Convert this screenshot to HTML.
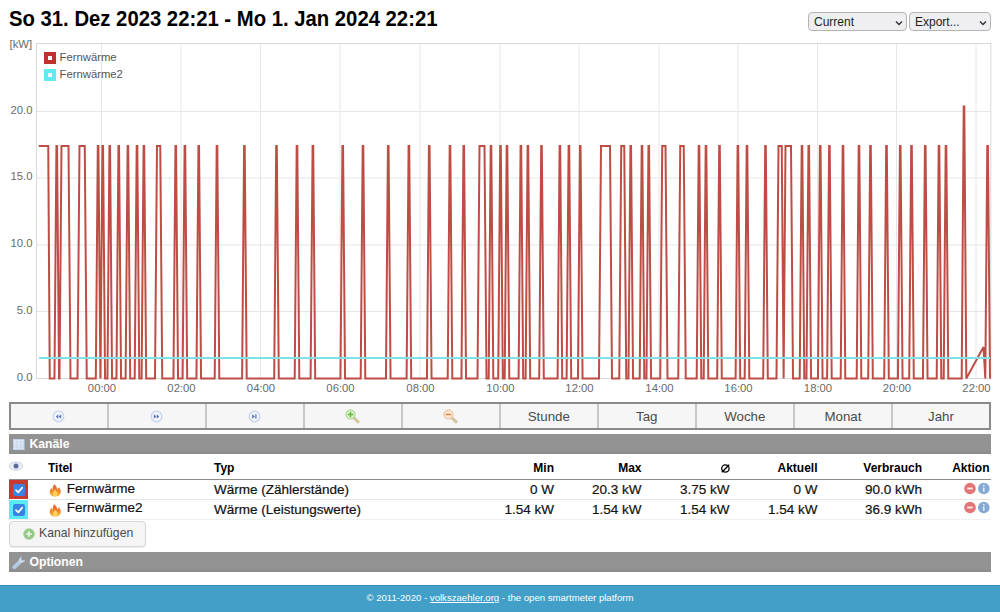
<!DOCTYPE html>
<html><head><meta charset="utf-8">
<style>
*{box-sizing:border-box}
html,body{margin:0;padding:0;background:#fff;width:1000px;height:612px;overflow:hidden;font-family:"Liberation Sans",sans-serif;color:#111}
.abs{position:absolute}
#title{left:9px;top:6px;font-weight:bold;font-size:22px;color:#000;white-space:nowrap;line-height:26px;transform:scaleX(0.922);transform-origin:0 0}
.sel{position:absolute;top:12px;height:19px;border:1px solid #b4b4b4;border-radius:4px;background:#efeff1;font-size:12px;color:#1e1e1e;line-height:19px;padding-left:5px}
.sel svg{position:absolute;right:3px;top:7px}
#chart{position:absolute;left:0;top:0}
.ylab{position:absolute;font-size:11.3px;color:#6a6a6a;text-align:right;width:30px;left:2.5px}
.xlab{position:absolute;font-size:11.3px;color:#6a6a6a;width:40px;text-align:center;top:381.5px}
#legend{position:absolute;left:43px;top:51px;font-size:11.3px;color:#545454}
#btnbar{position:absolute;left:8.5px;top:401.5px;width:982.5px;height:28.7px;border:2px solid #8a8a8a;background:#f6f6f6;display:flex}
#btnbar>div{flex:1;border-left:2px solid #c8c8c8;text-align:center;font-size:13.3px;color:#4a4a4a;line-height:25px;position:relative}
#btnbar>div:first-child{border-left:none}
#btnbar svg{position:absolute;left:50%;top:50%}
.hdr{position:absolute;left:8.5px;width:982.5px;height:20px;background:linear-gradient(#939393 0,#939393 80%,#8a8a8a 100%);color:#fff;font-weight:bold;font-size:12.2px;line-height:20px;padding-left:21px}
.hdr svg{position:absolute;left:4px;top:4px}
.th{position:absolute;top:461px;font-weight:bold;font-size:12px;color:#000;white-space:nowrap}
.td{position:absolute;font-size:13.5px;color:#111;white-space:nowrap;-webkit-text-stroke:0.2px #111}
.r{text-align:right}
</style></head><body>
<div id="title" class="abs">So 31. Dez 2023 22:21 - Mo 1. Jan 2024 22:21</div>
<div class="sel" style="left:808px;width:99px">Current<svg width="8" height="6" viewBox="0 0 8 6"><path d="M1 1.5L4 4.5L7 1.5" stroke="#333" stroke-width="1.4" fill="none"/></svg></div>
<div class="sel" style="left:909px;width:82px">Export...<svg width="8" height="6" viewBox="0 0 8 6"><path d="M1 1.5L4 4.5L7 1.5" stroke="#333" stroke-width="1.4" fill="none"/></svg></div>

<svg id="chart" width="1000" height="400" viewBox="0 0 1000 400">
 <g stroke="#e6e6e6" stroke-width="1" fill="none">
  <path d="M101.5 44V378M181 44V378M260.5 44V378M340 44V378M420 44V378M500 44V378M579 44V378M659 44V378M738 44V378M817.5 44V378M896.5 44V378M976 44V378"/>
  <path d="M37 111.5H990M37 178H990M37 245H990M37 311.5H990"/>
 </g>
 <rect x="36.5" y="43.5" width="954.3" height="335" fill="none" stroke="#d8d8d8" stroke-width="1"/>
 <polyline points="38.75,145.95 48.25,145.95 49.75,378.5 54.45,378.5 56.45,145.95 57.05,145.95 59.05,378.5 59.5,378.5 61.5,145.95 68.5,145.95 70.5,378.5 77.5,378.5 79.5,145.95 84.75,145.95 86.75,378.5 95.8,378.5 97.8,145.95 98.39999999999999,145.95 100.42,378.5 102.45,145.95 103.05,145.95 105.05,378.5 107.45,378.5 109.45,145.95 110.05,145.95 112.05,378.5 116.45,378.5 118.45,145.95 119.05,145.95 121.05,378.5 125.6,378.5 127.60000000000001,145.95 128.20000000000002,145.95 130.2,378.5 134.7,378.5 136.7,145.95 137.3,145.95 139.3,378.5 141.6,378.5 143.6,145.95 144.20000000000002,145.95 146.2,378.5 155.0,378.5 157,145.95 160.25,145.95 162.25,378.5 173.45,378.5 175.45,145.95 176.05,145.95 178.05,378.5 182.6,378.5 184.6,145.95 185.20000000000002,145.95 187.2,378.5 196.45,378.5 198.45,145.95 199.05,145.95 201.05,378.5 214.7,378.5 216.7,145.95 217.3,145.95 219.3,378.5 242.1,378.5 244.1,145.95 244.70000000000002,145.95 246.7,378.5 274.2,378.5 276.2,145.95 276.8,145.95 278.8,378.5 294.7,378.5 296.7,145.95 297.3,145.95 299.3,378.5 310.6,378.5 312.59999999999997,145.95 313.2,145.95 315.2,378.5 340.45,378.5 342.45,145.95 343.05,145.95 345.05,378.5 360.7,378.5 362.7,145.95 363.3,145.95 365.3,378.5 385.95,378.5 387.95,145.95 388.55,145.95 390.55,378.5 406.6,378.5 408.59999999999997,145.95 409.2,145.95 411.2,378.5 426.95,378.5 428.95,145.95 429.55,145.95 431.55,378.5 447.7,378.5 449.7,145.95 450.3,145.95 452.3,378.5 461.45,378.5 463.45,145.95 464.05,145.95 466.05,378.5 477.5,378.5 479.5,145.95 484.5,145.95 486.5,378.5 488.7,378.5 490.7,145.95 491.3,145.95 493.3,378.5 498.2,378.5 500.2,145.95 500.8,145.95 502.8,378.5 504.7,378.5 506.7,145.95 507.3,145.95 509.3,378.5 518.6,378.5 520.6,145.95 521.1999999999999,145.95 523.2,378.5 525.6,378.5 527.6,145.95 528.1999999999999,145.95 530.2,378.5 539.2,378.5 541.2,145.95 541.8,145.95 543.8,378.5 557.6,378.5 559.6,145.95 560.1999999999999,145.95 562.2,378.5 566.6,378.5 568.6,145.95 569.1999999999999,145.95 571.2,378.5 577.95,378.5 579.95,145.95 580.55,145.95 582.55,378.5 599.0,378.5 601,145.95 610,145.95 612.0,378.5 619.25,378.5 621.25,145.95 624.25,145.95 626.25,378.5 628.45,378.5 630.45,145.95 631.05,145.95 633.05,378.5 639.7,378.5 641.7,145.95 642.3,145.95 644.3,378.5 646.45,378.5 648.45,145.95 649.05,145.95 651.05,378.5 660.25,378.5 662.25,145.95 665.5,145.95 667.5,378.5 678.25,378.5 680.25,145.95 683.75,145.95 685.75,378.5 696.7,378.5 698.7,145.95 699.3,145.95 701.3,378.5 703.7,378.5 705.7,145.95 706.3,145.95 708.3,378.5 717.2,378.5 719.2,145.95 719.8,145.95 721.8,378.5 735.6,378.5 737.6,145.95 738.1999999999999,145.95 740.2,378.5 744.7,378.5 746.7,145.95 747.3,145.95 749.3,378.5 763.2,378.5 765.2,145.95 765.8,145.95 767.8,378.5 776.5,378.5 778.5,145.95 781.75,145.95 783.62,378.5 785.5,145.95 791,145.95 793.0,378.5 799.7,378.5 801.7,145.95 802.3,145.95 804.3,378.5 806.45,378.5 808.45,145.95 809.05,145.95 811.05,378.5 817.95,378.5 819.95,145.95 820.55,145.95 822.55,378.5 827.1,378.5 829.1,145.95 829.6999999999999,145.95 831.7,378.5 840.7,378.5 842.7,145.95 843.3,145.95 845.3,378.5 856.7,378.5 858.7,145.95 859.3,145.95 861.3,378.5 868.2,378.5 870.2,145.95 870.8,145.95 872.8,378.5 884.2,378.5 886.2,145.95 886.8,145.95 888.8,378.5 897.95,378.5 899.95,145.95 900.55,145.95 902.55,378.5 909.2,378.5 911.2,145.95 911.8,145.95 913.8,378.5 922.95,378.5 924.95,145.95 925.55,145.95 927.55,378.5 936.7,378.5 938.7,145.95 939.3,145.95 941.3,378.5 943.7,378.5 945.7,145.95 946.3,145.95 948.3,378.5 961.7,378.5 963.7,106.52 964.3,106.52 966.3,378.5 983.5,346.96 985.3,378.5 987.3,145.95 987.9,145.95 990.0,378.5" fill="none" stroke="#bd4d45" stroke-width="2" stroke-linejoin="miter" stroke-miterlimit="3"/>
 <path d="M39 357.9H990" stroke="#80e0e5" stroke-width="2" fill="none"/>
</svg>
<div class="abs" style="left:9.5px;top:37.5px;font-size:11.3px;color:#6a6a6a">[kW]</div>
<div class="ylab" style="top:103.5px">20.0</div>
<div class="ylab" style="top:170px">15.0</div>
<div class="ylab" style="top:237px">10.0</div>
<div class="ylab" style="top:303.5px">5.0</div>
<div class="ylab" style="top:370.5px">0.0</div>
<div class="xlab" style="left:82.0px">00:00</div>
<div class="xlab" style="left:161.5px">02:00</div>
<div class="xlab" style="left:241.0px">04:00</div>
<div class="xlab" style="left:320.5px">06:00</div>
<div class="xlab" style="left:400.5px">08:00</div>
<div class="xlab" style="left:480.5px">10:00</div>
<div class="xlab" style="left:559.5px">12:00</div>
<div class="xlab" style="left:639.5px">14:00</div>
<div class="xlab" style="left:718.5px">16:00</div>
<div class="xlab" style="left:798.0px">18:00</div>
<div class="xlab" style="left:877.0px">20:00</div>
<div class="xlab" style="left:956.5px">22:00</div>
<div id="legend">
 <div style="position:relative;height:17px"><span style="position:absolute;left:0.5px;top:1px;width:12px;height:11.5px;border:4.75px solid #c0302e;background:#fff"></span><span style="position:absolute;left:16.5px;top:0">Fernwärme</span></div>
 <div style="position:relative;height:17px"><span style="position:absolute;left:0.5px;top:1px;width:12px;height:11.5px;border:4.75px solid #62eaf0;background:#fff"></span><span style="position:absolute;left:16.5px;top:0">Fernwärme2</span></div>
</div>

<div id="btnbar">
 <div><svg width="13" height="13" viewBox="0 0 13 13" style="margin:-5.5px 0 0 -6.5px"><circle cx="6.5" cy="6.5" r="5.3" fill="#f3f6fd" stroke="#c6d3ee" stroke-width="1.2"/><path d="M6.3 4.2L3.8 6.5L6.3 8.8ZM9.2 4.2L6.7 6.5L9.2 8.8Z" fill="#5a72b5"/></svg></div>
 <div><svg width="13" height="13" viewBox="0 0 13 13" style="margin:-5.5px 0 0 -6.5px"><circle cx="6.5" cy="6.5" r="5.3" fill="#f3f6fd" stroke="#c6d3ee" stroke-width="1.2"/><path d="M3.8 4.2L6.3 6.5L3.8 8.8ZM6.7 4.2L9.2 6.5L6.7 8.8Z" fill="#5a72b5"/></svg></div>
 <div><svg width="13" height="13" viewBox="0 0 13 13" style="margin:-5.5px 0 0 -6.5px"><circle cx="6.5" cy="6.5" r="5.3" fill="#f3f6fd" stroke="#c6d3ee" stroke-width="1.2"/><path d="M4.2 4.2L6.9 6.5L4.2 8.8Z" fill="#5a72b5"/><path d="M7.9 4.2V8.8" stroke="#5a72b5" stroke-width="1.2"/></svg></div>
 <div><svg width="16" height="16" viewBox="0 0 16 16" style="margin:-7.5px 0 0 -8.5px"><path d="M9.5 9.5L14 13.8" stroke="#d4c49c" stroke-width="3" stroke-linecap="round"/><circle cx="6.5" cy="6.5" r="4.6" fill="#d4f2c0" stroke="#a0d488" stroke-width="1"/><path d="M6.5 3.8V9.2M3.8 6.5H9.2" stroke="#6cb84a" stroke-width="1.4"/></svg></div>
 <div><svg width="16" height="16" viewBox="0 0 16 16" style="margin:-7.5px 0 0 -8.5px"><path d="M9.5 9.5L14 13.8" stroke="#d4c49c" stroke-width="3" stroke-linecap="round"/><circle cx="6.5" cy="6.5" r="4.6" fill="#fce6cf" stroke="#e8bc94" stroke-width="1"/><path d="M3.8 6.5H9.2" stroke="#e0804a" stroke-width="1.4"/></svg></div>
 <div>Stunde</div><div>Tag</div><div>Woche</div><div>Monat</div><div>Jahr</div>
</div>

<div class="hdr" style="top:434px"><svg width="11.5" height="11" viewBox="0 0 12 12" preserveAspectRatio="none" style="left:4.5px;top:4.5px"><rect x="0.5" y="0.5" width="11" height="11" fill="#dfe9f7" stroke="#c4d4ec"/><path d="M0.5 3.5H11.5M0.5 6.5H11.5M0.5 9H11.5M4 0.5V11.5M8 0.5V11.5" stroke="#c0d2ea" stroke-width="0.7"/></svg>Kanäle</div>

<!-- table header -->
<svg class="abs" style="left:9px;top:461px" width="14" height="10" viewBox="0 0 14 10"><ellipse cx="7" cy="5" rx="6.5" ry="4" fill="#eef0f8" stroke="#b6bcd4" stroke-width="0.8"/><circle cx="7" cy="5" r="2.5" fill="#5a6aa0"/></svg>
<div class="th" style="left:48px">Titel</div>
<div class="th" style="left:214px">Typ</div>
<div class="th r" style="right:446px">Min</div>
<div class="th r" style="right:358.5px">Max</div>
<svg class="abs" style="left:720px;top:463px" width="11" height="11" viewBox="0 0 11 11"><circle cx="5.4" cy="5.5" r="3.7" fill="none" stroke="#000" stroke-width="1.3"/><path d="M1.9 9.3L9.2 1.7" stroke="#000" stroke-width="1.3"/></svg>
<div class="th r" style="right:182.5px">Aktuell</div>
<div class="th r" style="right:78px">Verbrauch</div>
<div class="th r" style="right:10.5px">Aktion</div>
<div class="abs" style="left:8.5px;top:479px;width:982.5px;height:1.4px;background:#8c8c8c"></div>
<div class="abs" style="left:28px;top:499.3px;width:963px;height:1px;background:#e4e4e4"></div>
<div class="abs" style="left:8.5px;top:519px;width:982.5px;height:1px;background:#f0f0f0"></div>

<!-- row 1 -->
<div class="abs" style="left:8.6px;top:480.3px;width:19.5px;height:18.5px;background:#c63a30"></div>
<div class="abs" style="left:8.6px;top:500.3px;width:19.5px;height:18.5px;background:#5ceaf2"></div>
<svg class="abs" style="left:13px;top:484px" width="12" height="12" viewBox="0 0 12 12"><rect width="12" height="12" rx="2.2" fill="#3b82e6"/><path d="M3 6.2L5.2 8.4L9.2 3.6" stroke="#fff" stroke-width="1.7" fill="none" stroke-linecap="round" stroke-linejoin="round"/></svg>
<svg class="abs" style="left:13px;top:503.6px" width="12" height="12" viewBox="0 0 12 12"><rect width="12" height="12" rx="2.2" fill="#3b82e6"/><path d="M3 6.2L5.2 8.4L9.2 3.6" stroke="#fff" stroke-width="1.7" fill="none" stroke-linecap="round" stroke-linejoin="round"/></svg>
<svg class="abs" style="left:48.8px;top:484.3px" width="12.5" height="13" viewBox="0 0 12 13"><defs><linearGradient id="fg1" x1="0" y1="0" x2="0" y2="1"><stop offset="0" stop-color="#e4572a"/><stop offset="0.55" stop-color="#f08a2c"/><stop offset="1" stop-color="#f7b733"/></linearGradient></defs><path d="M5.2 0.3C6.5 2 8 3.2 7.9 5.6C8.6 5 9.3 4.2 9.6 3.3C11 4.8 11.8 6.8 11.5 8.6C11.1 11 8.8 12.6 6 12.6C3 12.6 0.8 11 0.5 8.4C0.3 6.4 1.4 4.6 2.4 3.8C2.4 4.8 2.8 5.6 3.4 6C3.2 3.8 3.8 1.8 5.2 0.3Z" fill="url(#fg1)"/><path d="M5.8 5.8C6.8 7.2 8.6 8.2 8.3 10C8 11.6 7 12.2 5.9 12.2C4.5 12.2 3.4 11.3 3.5 9.9C3.6 8.3 5 7.4 5.8 5.8Z" fill="#fcd35a"/></svg>
<svg class="abs" style="left:48.8px;top:503.8px" width="12.5" height="13" viewBox="0 0 12 13"><defs><linearGradient id="fg2" x1="0" y1="0" x2="0" y2="1"><stop offset="0" stop-color="#e4572a"/><stop offset="0.55" stop-color="#f08a2c"/><stop offset="1" stop-color="#f7b733"/></linearGradient></defs><path d="M5.2 0.3C6.5 2 8 3.2 7.9 5.6C8.6 5 9.3 4.2 9.6 3.3C11 4.8 11.8 6.8 11.5 8.6C11.1 11 8.8 12.6 6 12.6C3 12.6 0.8 11 0.5 8.4C0.3 6.4 1.4 4.6 2.4 3.8C2.4 4.8 2.8 5.6 3.4 6C3.2 3.8 3.8 1.8 5.2 0.3Z" fill="url(#fg2)"/><path d="M5.8 5.8C6.8 7.2 8.6 8.2 8.3 10C8 11.6 7 12.2 5.9 12.2C4.5 12.2 3.4 11.3 3.5 9.9C3.6 8.3 5 7.4 5.8 5.8Z" fill="#fcd35a"/></svg>

<div class="td" style="left:66.8px;top:480.5px">Fernwärme</div>
<div class="td" style="left:214px;top:481.5px">Wärme (Zählerstände)</div>
<div class="td r" style="right:446px;top:481.5px">0 W</div>
<div class="td r" style="right:358.5px;top:481.5px">20.3 kW</div>
<div class="td r" style="right:270.5px;top:481.5px">3.75 kW</div>
<div class="td r" style="right:182.5px;top:481.5px">0 W</div>
<div class="td r" style="right:78px;top:481.5px">90.0 kWh</div>

<div class="td" style="left:66.8px;top:499.5px">Fernwärme2</div>
<div class="td" style="left:214px;top:501.5px">Wärme (Leistungswerte)</div>
<div class="td r" style="right:446px;top:501.5px">1.54 kW</div>
<div class="td r" style="right:358.5px;top:501.5px">1.54 kW</div>
<div class="td r" style="right:270.5px;top:501.5px">1.54 kW</div>
<div class="td r" style="right:182.5px;top:501.5px">1.54 kW</div>
<div class="td r" style="right:78px;top:501.5px">36.9 kWh</div>

<svg class="abs" style="left:963px;top:481.6px" width="28" height="13" viewBox="0 0 28 13"><circle cx="7" cy="6.5" r="5.8" fill="#e27676"/><path d="M4.2 6.5H9.8" stroke="#fbeaea" stroke-width="1.8"/><circle cx="20.8" cy="6.5" r="5.8" fill="#86a8d4"/><circle cx="20.8" cy="3.6" r="0.9" fill="#eef4fb"/><path d="M20.8 5.4V9.8" stroke="#eef4fb" stroke-width="1.4"/></svg>
<svg class="abs" style="left:963px;top:501.2px" width="28" height="13" viewBox="0 0 28 13"><circle cx="7" cy="6.5" r="5.8" fill="#e27676"/><path d="M4.2 6.5H9.8" stroke="#fbeaea" stroke-width="1.8"/><circle cx="20.8" cy="6.5" r="5.8" fill="#86a8d4"/><circle cx="20.8" cy="3.6" r="0.9" fill="#eef4fb"/><path d="M20.8 5.4V9.8" stroke="#eef4fb" stroke-width="1.4"/></svg>

<!-- Kanal hinzufuegen -->
<div class="abs" style="left:8.5px;top:520.5px;width:137.5px;height:26px;border:1px solid #d6d6d6;border-radius:4px;background:#f5f5f5;box-shadow:0 1px 1px rgba(0,0,0,0.08)"></div>
<svg class="abs" style="left:22.5px;top:527.5px" width="12" height="12" viewBox="0 0 12 12"><circle cx="6" cy="6" r="5.6" fill="#94c688"/><circle cx="6" cy="6" r="5.4" fill="none" stroke="#b4dca8" stroke-width="0.8"/><path d="M6 3.2V8.8M3.2 6H8.8" stroke="#eef8ea" stroke-width="1.7"/></svg>
<div class="abs" style="left:39px;top:526.2px;font-size:12.2px;color:#4a4a4a">Kanal hinzufügen</div>

<div class="hdr" style="top:552px"><svg width="14" height="14" viewBox="0 0 14 14" style="left:3px;top:3px"><path d="M2.4 12.2L8.2 6.6" stroke="#b4cbe6" stroke-width="3.8" stroke-linecap="round"/><path d="M7 7.4C6.2 5.2 7.4 2.4 9.8 1.8L9.2 4.2L10.8 5.6L13 4.8C12.8 7.2 10.2 8.6 7 7.4Z" fill="#c8d8ea"/></svg>Optionen</div>
<div class="abs" style="left:0;top:584.7px;width:1000px;height:28px;background:#42a0c8;box-shadow:inset 0 1px 0 #3a8bb0;color:#fff;font-size:9.6px;text-align:center;line-height:25.5px">© 2011-2020 - <u>volkszaehler.org</u> - the open smartmeter platform</div>
</body></html>
